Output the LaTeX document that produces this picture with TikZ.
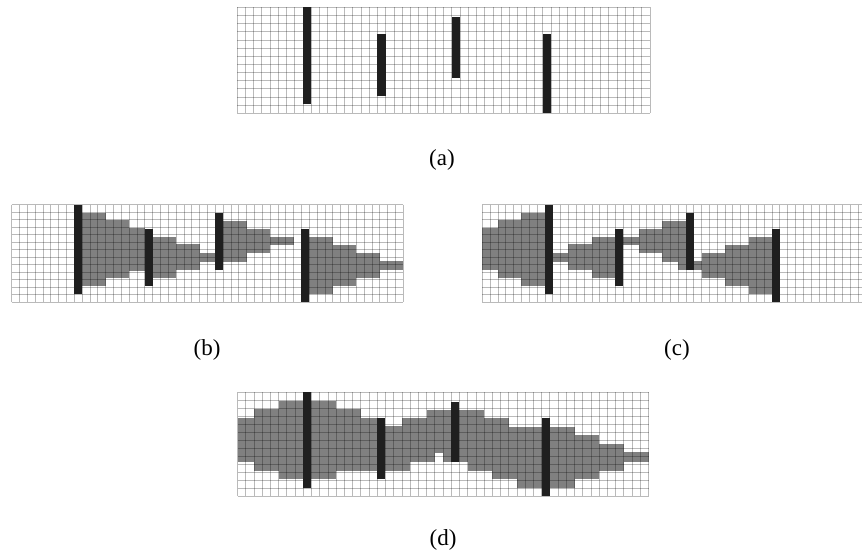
\documentclass[tikz,border=0pt]{standalone}
\usepackage{fontspec}
\setmainfont{Liberation Serif}
\tikzset{
  shadefill/.style={fill=black!50},
  gridline/.style={draw=black,opacity=0.27,line width=0.75pt},
  barfill/.style={fill=black!88},
  panellabel/.style={font=\fontsize{23}{27}\selectfont,inner sep=0pt}
}
\newcommand\mygrid{%
  \foreach \i in {0,...,50} \draw[gridline] (\i,0) -- (\i,13);
  \foreach \j in {0,...,13} \draw[gridline] (0,\j) -- (50,\j);
}
\newcommand\mybars{%
  \fill[barfill] (8,0) rectangle (9,11.9);
  \fill[barfill] (17,3.25) rectangle (18,10.85);
  \fill[barfill] (26,1.15) rectangle (27,8.7);
  \fill[barfill] (37,3.25) rectangle (38,12.95);
}
\newcommand\shaderight{%
  \fill[shadefill] (9,1.05) rectangle (12,10.85);
  \fill[shadefill] (12,2.1) rectangle (15,9.8);
  \fill[shadefill] (15,3.15) rectangle (17,8.8);
  \fill[shadefill] (18,4.25) rectangle (21,9.8);
  \fill[shadefill] (21,5.3) rectangle (24,8.7);
  \fill[shadefill] (24,6.4) rectangle (26,7.6);
  \fill[shadefill] (27,2.15) rectangle (30,7.6);
  \fill[shadefill] (30,3.2) rectangle (33,6.45);
  \fill[shadefill] (33,4.3) rectangle (36,5.35);
  \fill[shadefill] (38,4.3) rectangle (41,11.9);
  \fill[shadefill] (41,5.35) rectangle (44,10.85);
  \fill[shadefill] (44,6.4) rectangle (47,9.8);
  \fill[shadefill] (47,7.5) rectangle (50,8.7);
}
\newcommand\shadeleft{%
  \fill[shadefill] (5,1.05) rectangle (8,10.85);
  \fill[shadefill] (2,2.1) rectangle (5,9.8);
  \fill[shadefill] (0,3.15) rectangle (2,8.75);
  \fill[shadefill] (14,4.25) rectangle (17,9.8);
  \fill[shadefill] (11,5.3) rectangle (14,8.7);
  \fill[shadefill] (9,6.4) rectangle (11,7.6);
  \fill[shadefill] (23,2.15) rectangle (26,7.6);
  \fill[shadefill] (20,3.2) rectangle (23,6.45);
  \fill[shadefill] (18,4.3) rectangle (20,5.35);
  \fill[shadefill] (34,4.3) rectangle (37,11.9);
  \fill[shadefill] (31,5.35) rectangle (34,10.85);
  \fill[shadefill] (28,6.4) rectangle (31,9.8);
  \fill[shadefill] (25,7.5) rectangle (28,8.7);
}
\begin{document}
\begin{tikzpicture}[x=1pt,y=-1pt]
\useasboundingbox (0,0) rectangle (862,557);
% (a)
\begin{scope}[shift={(237,7.3)},x=8.26pt,y=-8.15pt]
  \mygrid
  \mybars
\end{scope}
\node[panellabel] (la) at (442,160) {(a)};
% (b)
\begin{scope}[shift={(11.7,204.7)},x=7.83pt,y=-7.5pt]
  \shaderight
  \mygrid
  \mybars
\end{scope}
\node[panellabel] (lb) at (207,350) {(b)};
% (c)
\begin{scope}[shift={(482.3,204.7)},x=7.83pt,y=-7.5pt]
  \clip (-1,-1) rectangle (48.49,14);
  \shadeleft
  \mygrid
  \mybars
\end{scope}
\node[panellabel] (lc) at (677,350) {(c)};
% (d)
\begin{scope}[shift={(237.5,392.3)},x=8.22pt,y=-8pt]
  \shaderight
  \shadeleft
  \mygrid
  \mybars
\end{scope}
\node[panellabel] (ld) at (443,540) {(d)};
\end{tikzpicture}
\end{document}
